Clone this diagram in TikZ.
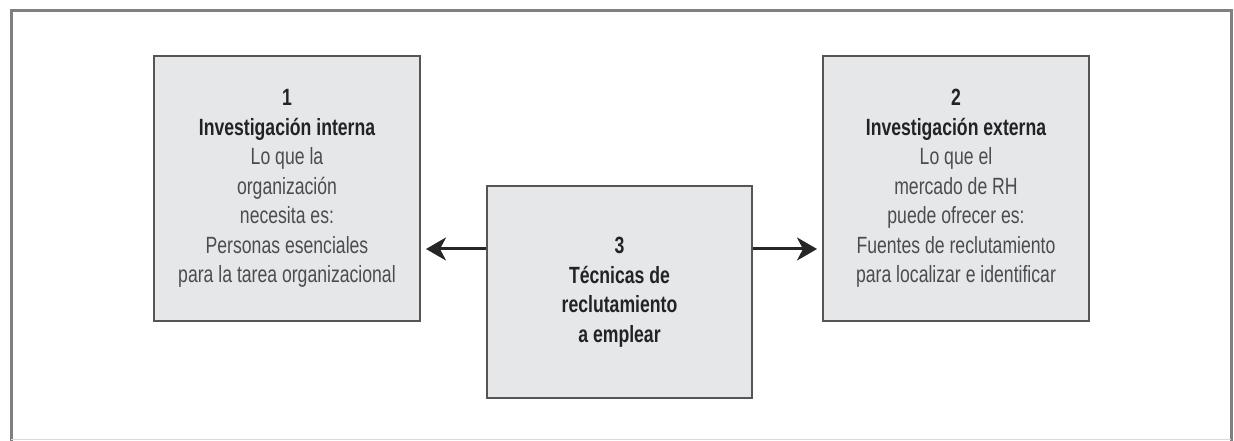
\documentclass[tikz,border=0pt]{standalone}
\usepackage{fontspec}
\setmainfont[FakeStretch=0.75]{Liberation Sans}
\usetikzlibrary{arrows.meta}
\definecolor{boxfill}{RGB}{230,231,233}
\definecolor{boxline}{RGB}{85,85,85}
\definecolor{frameline}{RGB}{128,128,128}
\definecolor{bodytext}{RGB}{75,76,78}
\definecolor{titletext}{RGB}{35,35,37}
\tikzset{
  stagebox/.style={draw=boxline, line width=2pt, fill=boxfill, align=center,
    inner sep=0pt, font=\fontsize{23.5}{29.5}\selectfont, text=bodytext},
  flowarrow/.style={line width=3pt, draw=black!85, -{Stealth[length=20pt,width=23pt,inset=6pt]}, shorten >=5pt}
}
\newcommand{\ttl}[1]{\textcolor{titletext}{\bfseries #1}}
\begin{document}
\begin{tikzpicture}[x=1pt,y=1pt]
\useasboundingbox (0,0) rectangle (1234,441);
% outer frame
\draw[frameline, line width=3pt] (11,0) -- (11,430) -- (1231,430) -- (1231,0);
\draw[black!15, line width=1pt] (11,1) -- (1231,1);
% boxes
\node[stagebox, minimum width=266pt, minimum height=265pt] (b1) at (287,252.5)
  {\ttl{1}\\ \ttl{Investigación interna}\\ Lo que la\\ organización\\ necesita es:\\ Personas esenciales\\ para la tarea organizacional};
\node[stagebox, minimum width=266pt, minimum height=265pt] (b2) at (956,252.5)
  {\ttl{2}\\ \ttl{Investigación externa}\\ Lo que el\\ mercado de RH\\ puede ofrecer es:\\ Fuentes de reclutamiento\\ para localizar e identificar};
\node[stagebox, minimum width=265pt, minimum height=212pt] (b3) at (619.5,149)
  {\ttl{3}\\ \ttl{Técnicas de}\\ \ttl{reclutamiento}\\ \ttl{a emplear}};
% arrows
\coordinate (ay) at (0,192);
\draw[flowarrow] (b3.west |- ay) -- (b1.east |- ay);
\draw[flowarrow] (b3.east |- ay) -- (b2.west |- ay);
\end{tikzpicture}
\end{document}
